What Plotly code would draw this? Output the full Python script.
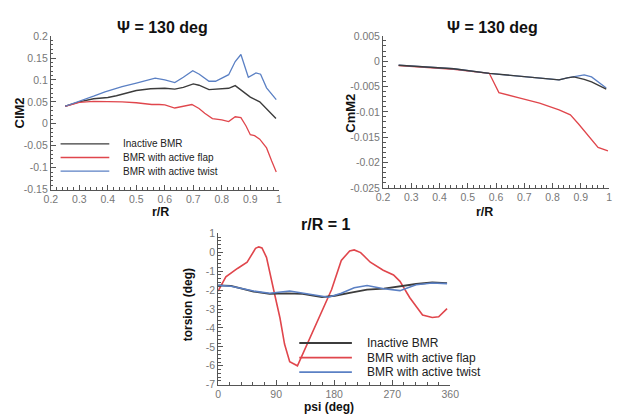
import plotly.graph_objects as go

W, H = 621, 416

# ---------------- data ----------------
# Top-left: ClM2 vs r/R (psi = 130 deg)
cl_inactive_r = [0.25, 0.30, 0.35, 0.40, 0.43, 0.47, 0.50, 0.55, 0.60, 0.635, 0.665, 0.70, 0.72, 0.755, 0.80, 0.824, 0.847, 0.87, 0.90, 0.933, 0.96, 0.99]
cl_inactive = [0.040, 0.050, 0.057, 0.060, 0.064, 0.071, 0.076, 0.080, 0.081, 0.079, 0.083, 0.091, 0.088, 0.078, 0.080, 0.081, 0.087, 0.076, 0.061, 0.050, 0.033, 0.012]

cl_twist_r = [0.25, 0.30, 0.35, 0.39, 0.45, 0.50, 0.566, 0.60, 0.635, 0.665, 0.698, 0.721, 0.755, 0.778, 0.80, 0.824, 0.847, 0.867, 0.893, 0.92, 0.936, 0.957, 0.991]
cl_twist = [0.040, 0.051, 0.063, 0.073, 0.085, 0.093, 0.104, 0.100, 0.094, 0.106, 0.121, 0.113, 0.097, 0.097, 0.104, 0.112, 0.142, 0.158, 0.106, 0.116, 0.113, 0.082, 0.055]

cl_flap_r = [0.25, 0.30, 0.35, 0.40, 0.45, 0.50, 0.554, 0.58, 0.60, 0.635, 0.665, 0.695, 0.72, 0.74, 0.767, 0.80, 0.824, 0.847, 0.867, 0.885, 0.90, 0.915, 0.933, 0.957, 0.975, 0.991]
cl_flap = [0.040, 0.049, 0.051, 0.051, 0.050, 0.048, 0.044, 0.044, 0.043, 0.036, 0.040, 0.044, 0.035, 0.024, 0.012, 0.009, 0.005, 0.016, 0.014, -0.005, -0.025, -0.027, -0.035, -0.055, -0.085, -0.110]

# Top-right: CmM2 vs r/R
cm_r = [0.255, 0.35, 0.45, 0.576, 0.65, 0.75, 0.823, 0.852, 0.875, 0.912, 0.938, 0.99]
cm_inactive = [-0.0008, -0.0011, -0.0015, -0.0024, -0.0028, -0.0033, -0.0037, -0.0033, -0.0031, -0.0036, -0.0041, -0.0055]
cm_twist = [-0.0008, -0.0011, -0.0015, -0.0024, -0.0028, -0.0033, -0.0037, -0.0033, -0.0031, -0.0027, -0.0031, -0.0053]
cm_flap_r = [0.255, 0.35, 0.45, 0.576, 0.61, 0.685, 0.754, 0.823, 0.863, 0.892, 0.927, 0.961, 0.996]
cm_flap = [-0.0009, -0.0012, -0.0016, -0.0024, -0.0062, -0.0073, -0.0083, -0.0096, -0.0106, -0.0124, -0.0147, -0.0170, -0.0177]

# Bottom: torsion vs psi at r/R = 1
tor_inactive_psi = [0, 20, 55, 80, 106, 131, 161, 181, 206, 231, 257, 282, 307, 332, 355]
tor_inactive = [-1.75, -1.78, -2.08, -2.20, -2.17, -2.20, -2.37, -2.30, -2.14, -1.98, -1.92, -1.80, -1.68, -1.60, -1.63]
tor_twist_psi = [0, 20, 55, 80, 111, 131, 156, 171, 191, 211, 231, 257, 282, 307, 332, 355]
tor_twist = [-1.75, -1.80, -2.05, -2.17, -2.05, -2.17, -2.30, -2.38, -2.17, -1.88, -1.76, -1.93, -2.03, -1.72, -1.63, -1.66]
tor_flap_psi = [0, 12, 30, 45, 58, 63, 68, 75, 86, 96, 103, 111, 123, 136, 156, 176, 191, 204, 211, 221, 236, 256, 272, 282, 297, 317, 332, 342, 355]
tor_flap = [-2.05, -1.30, -0.86, -0.53, 0.20, 0.28, 0.22, -0.27, -1.97, -3.49, -4.85, -5.78, -6.00, -5.00, -3.49, -1.97, -0.44, 0.07, 0.12, -0.02, -0.53, -0.95, -1.20, -1.54, -2.39, -3.32, -3.45, -3.41, -2.98]

series_names = ["Inactive BMR", "BMR with active flap", "BMR with active twist"]

# tick labels
cl_yticks = [0.2, 0.15, 0.1, 0.05, 0, -0.05, -0.1, -0.15]
cl_ytext = ["0.2", "0.15", "0.1", "0.05", "0", "-0.05", "-0.1", "-0.15"]
r_ticks = [0.2, 0.3, 0.4, 0.5, 0.6, 0.7, 0.8, 0.9, 1.0]
r_text = ["0.2", "0.3", "0.4", "0.5", "0.6", "0.7", "0.8", "0.9", "1"]
cm_yticks = [0.005, 0, -0.005, -0.01, -0.015, -0.02, -0.025]
cm_ytext = ["0.005", "0", "-0.005", "-0.01", "-0.015", "-0.02", "-0.025"]
psi_ticks = [0, 90, 180, 270, 360]
psi_text = ["0", "90", "180", "270", "360"]
tor_yticks = [1, 0, -1, -2, -3, -4, -5, -6, -7]
tor_ytext = ["1", "0", "-1", "-2", "-3", "-4", "-5", "-6", "-7"]

# ---------------- style ----------------
C_BLACK = "#3c3c3c"
C_RED = "#e0464c"
C_BLUE = "#5b80c4"
colors = [C_BLACK, C_RED, C_BLUE]
FONT = "Liberation Sans, Arial, sans-serif"
TICKC = "#777777"
AXC = "#555555"


def px(x):
    return x / W


def py(y):
    return 1 - y / H


fig = go.Figure()

# top-left
fig.add_trace(go.Scatter(x=cl_inactive_r, y=cl_inactive, mode="lines", line=dict(color=C_BLACK, width=1.4), xaxis="x", yaxis="y", showlegend=False))
fig.add_trace(go.Scatter(x=cl_flap_r, y=cl_flap, mode="lines", line=dict(color=C_RED, width=1.3), xaxis="x", yaxis="y", showlegend=False))
fig.add_trace(go.Scatter(x=cl_twist_r, y=cl_twist, mode="lines", line=dict(color=C_BLUE, width=1.3), xaxis="x", yaxis="y", showlegend=False))
# top-right
fig.add_trace(go.Scatter(x=cm_flap_r, y=cm_flap, mode="lines", line=dict(color=C_RED, width=1.3), xaxis="x2", yaxis="y2", showlegend=False))
fig.add_trace(go.Scatter(x=cm_r, y=cm_twist, mode="lines", line=dict(color=C_BLUE, width=1.3), xaxis="x2", yaxis="y2", showlegend=False))
fig.add_trace(go.Scatter(x=cm_r, y=cm_inactive, mode="lines", line=dict(color=C_BLACK, width=1.4), xaxis="x2", yaxis="y2", showlegend=False))
# bottom
fig.add_trace(go.Scatter(x=tor_flap_psi, y=tor_flap, mode="lines", line=dict(color=C_RED, width=1.6), xaxis="x3", yaxis="y3", showlegend=False))
fig.add_trace(go.Scatter(x=tor_inactive_psi, y=tor_inactive, mode="lines", line=dict(color=C_BLACK, width=1.8), xaxis="x3", yaxis="y3", showlegend=False))
fig.add_trace(go.Scatter(x=tor_twist_psi, y=tor_twist, mode="lines", line=dict(color=C_BLUE, width=1.6), xaxis="x3", yaxis="y3", showlegend=False))


def axis(domain, anchor, rng, tickvals, ticktext, minor_step):
    lo, hi = min(rng), max(rng)
    n = int(round((hi - lo) / minor_step))
    minor_vals = [lo + i * minor_step for i in range(n + 1)]
    return dict(domain=domain, anchor=anchor, range=rng, tickmode="array", tickvals=tickvals, ticktext=ticktext,
                showgrid=False, zeroline=False, showline=True, linecolor=AXC, linewidth=1,
                ticks="inside", ticklen=5, tickcolor=AXC, tickwidth=1,
                tickfont=dict(family=FONT, size=10.5, color=TICKC),
                minor=dict(tickmode="array", tickvals=minor_vals, ticks="inside", ticklen=2.5,
                           tickcolor=AXC, tickwidth=1, showgrid=False),
                fixedrange=True)


fig.update_layout(
    width=W, height=H, margin=dict(l=0, r=0, t=0, b=0),
    paper_bgcolor="white", plot_bgcolor="white", showlegend=False,
    xaxis=axis([px(45), px(279)], "y", [0.2, 1.0], r_ticks, r_text, 0.02),
    yaxis=axis([py(189), py(31)], "x", [-0.15, 0.2], cl_yticks, cl_ytext, 0.01),
    xaxis2=axis([px(386), px(618)], "y2", [0.2, 1.0], r_ticks, r_text, 0.02),
    yaxis2=axis([py(187.3), py(30.7)], "x2", [-0.025, 0.005], cm_yticks, cm_ytext, 0.001),
    xaxis3=axis([px(216.7), px(455)], "y3", [0, 360], psi_ticks, psi_text, 18),
    yaxis3=axis([py(390), py(234)], "x3", [-7, 1], tor_yticks, tor_ytext, 0.2),
)

ann = []


def text(x, y, s, size, bold=False, angle=0, xanchor="center", color="#111111"):
    ann.append(dict(x=px(x), y=py(y), xref="paper", yref="paper", text=("<b>%s</b>" % s) if bold else s,
                    showarrow=False, textangle=angle, xanchor=xanchor, yanchor="middle",
                    font=dict(family=FONT, size=size, color=color)))


# titles
text(160, 22, "Ψ = 130 deg", 16, bold=True)
text(498, 22, "Ψ = 130 deg", 16, bold=True)
text(327, 225, "r/R = 1", 16, bold=True)
# axis titles
text(158, 212, "r/R", 12.5, bold=True)
text(490, 212, "r/R", 12.5, bold=True)
text(331, 413, "psi (deg)", 12, bold=True)
text(13, 110, "ClM2", 13, bold=True, angle=-90)
text(353, 110, "CmM2", 13, bold=True, angle=-90)
text(186, 308, "torsion (deg)", 12, bold=True, angle=-90)

shapes = []
# legends (manual)
leg1_rows = [142, 156, 170]
for name, c, yy in zip(series_names, colors, leg1_rows):
    shapes.append(dict(type="line", xref="paper", yref="paper", x0=px(55), x1=px(105), y0=py(yy), y1=py(yy),
                       line=dict(color=c, width=1.4)))
    text(117, yy, name, 10, xanchor="left", color="#222222")

leg2_rows = [347, 362, 377]
for name, c, yy in zip(series_names, colors, leg2_rows):
    shapes.append(dict(type="line", xref="paper", yref="paper", x0=px(300), x1=px(354), y0=py(yy), y1=py(yy),
                       line=dict(color=c, width=1.8)))
    text(367, yy, name, 12, xanchor="left", color="#222222")

fig.update_layout(annotations=ann, shapes=shapes)
fig.write_html("out.html")
